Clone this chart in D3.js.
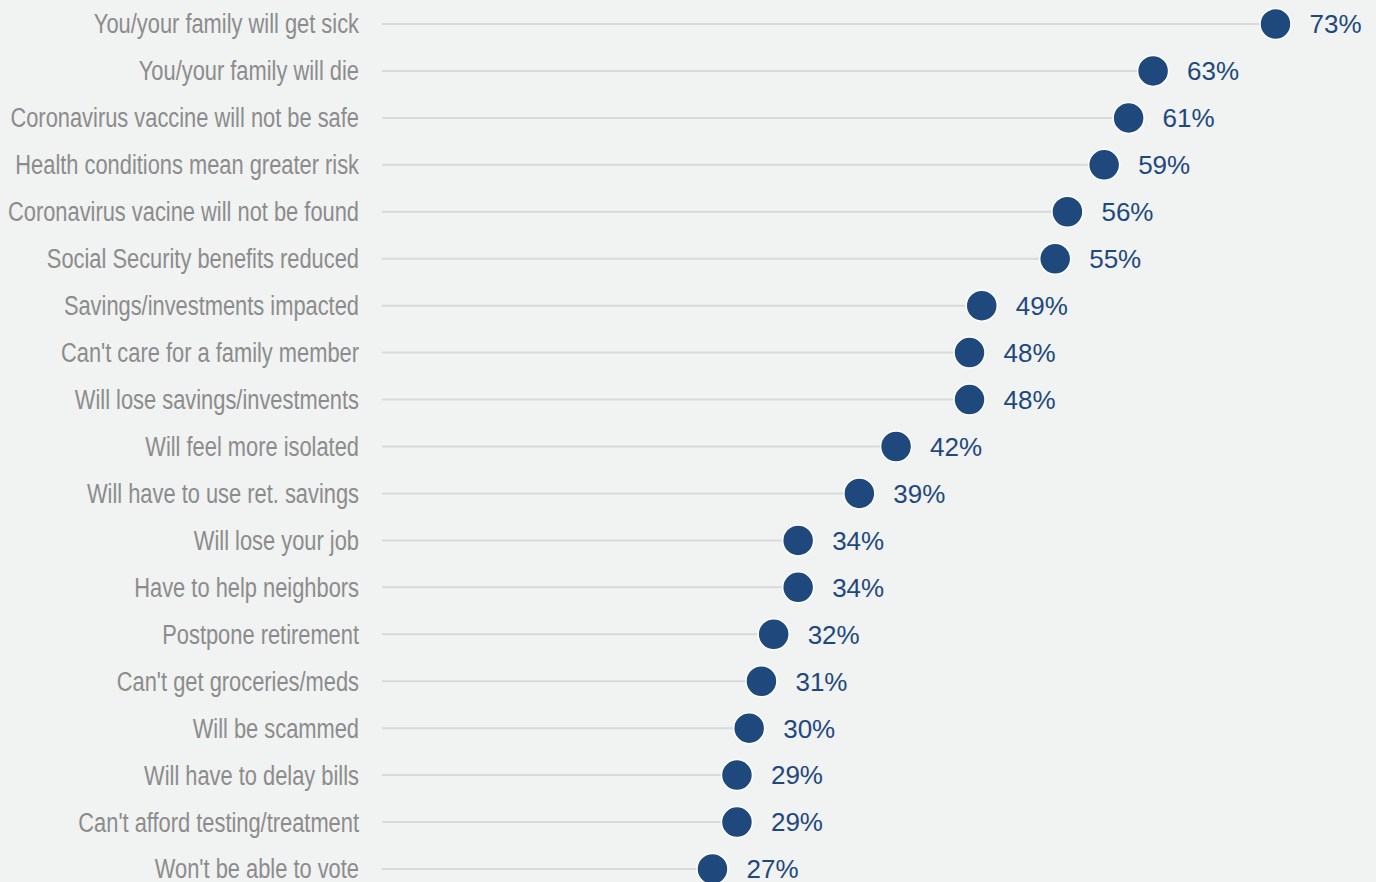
<!DOCTYPE html>
<html>
<head>
<meta charset="utf-8">
<script src="https://cdn.jsdelivr.net/npm/d3@7/dist/d3.min.js"></script>
<style>
  html, body { margin: 0; padding: 0; background: #f1f2f2; }
  svg { display: block; }
</style>
</head>
<body>
<svg id="chart" width="1376" height="882"></svg>
<script>
// Share of respondents worried about each outcome (%)
const categories = [
  "You/your family will get sick",
  "You/your family will die",
  "Coronavirus vaccine will not be safe",
  "Health conditions mean greater risk",
  "Coronavirus vacine will not be found",
  "Social Security benefits reduced",
  "Savings/investments impacted",
  "Can't care for a family member",
  "Will lose savings/investments",
  "Will feel more isolated",
  "Will have to use ret. savings",
  "Will lose your job",
  "Have to help neighbors",
  "Postpone retirement",
  "Can't get groceries/meds",
  "Will be scammed",
  "Will have to delay bills",
  "Can't afford testing/treatment",
  "Won't be able to vote"
];
const values = [73, 63, 61, 59, 56, 55, 49, 48, 48, 42, 39, 34, 34, 32, 31, 30, 29, 29, 27];

const data = categories.map((c, i) => ({ category: c, value: values[i] }));

const width = 1376, height = 882;
const svg = d3.select("#chart");

svg.append("rect").attr("width", width).attr("height", height).attr("fill", "#f1f2f2");

const x = d3.scaleLinear().domain([0, 73]).range([382, 1275.5]);
const y = d3.scalePoint().domain(categories).range([24, 869]);

// Stems from zero to each value
svg.append("g").selectAll("line")
  .data(data).join("line")
  .attr("x1", x(0))
  .attr("x2", d => x(d.value))
  .attr("y1", d => y(d.category))
  .attr("y2", d => y(d.category))
  .attr("stroke", "#d9d9d9")
  .attr("stroke-width", 2);

// Category labels, set in a condensed style (horizontal squeeze)
svg.append("g").selectAll("text")
  .data(data).join("text")
  .attr("transform", d => `translate(359,${y(d.category)}) scale(0.81,1)`)
  .attr("dy", "0.35em")
  .attr("text-anchor", "end")
  .attr("font-family", "'Liberation Sans Narrow', 'Arial Narrow', 'Liberation Sans', Arial, sans-serif")
  .attr("font-size", 27)
  .attr("fill", "#8c8c8c")
  .text(d => d.category);

// Dots
svg.append("g").selectAll("circle")
  .data(data).join("circle")
  .attr("cx", d => x(d.value))
  .attr("cy", d => y(d.category))
  .attr("r", 15.5)
  .attr("fill", "#1f497d")
  .attr("stroke", "#ffffff")
  .attr("stroke-width", 1.5);

// Value labels
svg.append("g").selectAll("text")
  .data(data).join("text")
  .attr("x", d => x(d.value) + 34)
  .attr("y", d => y(d.category))
  .attr("dy", "0.36em")
  .attr("font-family", "'Liberation Sans', Arial, sans-serif")
  .attr("font-size", 26)
  .attr("fill", "#1f497d")
  .text(d => d.value + "%");
</script>
</body>
</html>
